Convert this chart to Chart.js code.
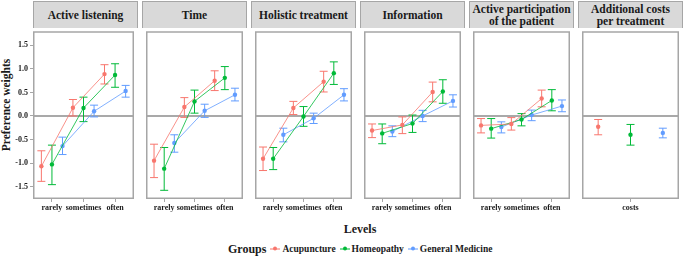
<!DOCTYPE html>
<html>
<head>
<meta charset="utf-8">
<script src="https://cdn.jsdelivr.net/npm/chart.js@4"></script>
<style>
  body { margin: 0; background: #fff; }
  #wrap { position: relative; width: 685px; height: 257px; overflow: hidden;
          font-family: "Liberation Serif", serif; font-weight: bold; color: #1a1a1a; }
  .strip { position: absolute; top: 1px; height: 27px; box-sizing: border-box;
           background: #d9d9d9; border: 1.5px solid #a6a6a6; border-bottom: none;
           display: flex; align-items: center; justify-content: center; text-align: center;
           font-size: 11.5px; line-height: 12.5px; white-space: pre-line; }
  canvas { position: absolute; top: 28px; }
  #ytitle { position: absolute; left: 5.5px; top: 105px; font-size: 11.5px; white-space: nowrap;
            transform: translate(-50%, -50%) rotate(-90deg); }
  #xtitle { position: absolute; left: 360px; top: 229px; font-size: 12px;
            transform: translate(-50%, -50%); }
  #legend { position: absolute; left: 228px; top: 248.5px; transform: translateY(-50%);
            display: flex; align-items: center; white-space: nowrap; }
  #legend .ttl { font-size: 12px; margin-right: 4px; }
  #legend .item { font-size: 9.5px; margin-right: 4px; }
  .key { display: inline-block; position: relative; width: 10px; height: 8px; margin-right: 2px; vertical-align: middle; }
  .key i { position: absolute; left: 0; right: 0; top: 3.5px; height: 1px; }
  .key b { position: absolute; left: 3px; top: 2px; width: 4px; height: 4px; border-radius: 2px; }
</style>
</head>
<body>
<div id="wrap">
  <div id="ytitle">Preference weights</div>
  <div id="xtitle">Levels</div>
  <div id="legend"></div>
</div>
<script>
// facets, levels and groups
const attributes = ['Active listening', 'Time', 'Holistic treatment', 'Information',
  'Active participation\nof the patient', 'Additional costs\nper treatment'];
const levels = ['rarely', 'sometimes', 'often'];
const costLevels = ['costs'];
const groups = ['Acupuncture', 'Homeopathy', 'General Medicine'];
const yTicks = [-1.5, -1, -0.5, 0, 0.5, 1, 1.5];

// preference weights per attribute (rarely, sometimes, often; costs = one value)
const acuMean = [[-1.07, 0.175, 0.89], [-0.95, 0.19, 0.75], [-0.91, 0.17, 0.73], [-0.31, -0.19, 0.51], [-0.20, -0.17, 0.37], [-0.23]];
const acuLow  = [[-1.39, 0.0, 0.68], [-1.31, -0.03, 0.54], [-1.16, 0.03, 0.51], [-0.46, -0.375, 0.30], [-0.36, -0.30, 0.195], [-0.40]];
const acuHigh = [[-0.74, 0.35, 1.09], [-0.60, 0.39, 0.96], [-0.66, 0.31, 0.95], [-0.17, -0.02, 0.72], [-0.055, -0.035, 0.55], [-0.075]];

const homMean = [[-1.03, 0.17, 0.87], [-1.12, 0.31, 0.81], [-0.91, -0.01, 0.91], [-0.37, -0.16, 0.52], [-0.27, -0.075, 0.33], [-0.40]];
const homLow  = [[-1.46, -0.12, 0.61], [-1.58, 0.06, 0.56], [-1.14, -0.22, 0.67], [-0.59, -0.35, 0.27], [-0.47, -0.21, 0.11], [-0.62]];
const homHigh = [[-0.62, 0.40, 1.11], [-0.67, 0.55, 1.05], [-0.67, 0.20, 1.15], [-0.17, 0.02, 0.77], [-0.055, 0.05, 0.56], [-0.18]];

const gmMean = [[-0.64, 0.10, 0.53], [-0.575, 0.11, 0.45], [-0.40, -0.05, 0.45], [-0.33, 0.0, 0.32], [-0.235, 0.02, 0.21], [-0.36]];
const gmLow  = [[-0.82, -0.02, 0.40], [-0.77, -0.03, 0.32], [-0.55, -0.16, 0.32], [-0.44, -0.12, 0.19], [-0.36, -0.10, 0.09], [-0.465]];
const gmHigh = [[-0.45, 0.23, 0.65], [-0.40, 0.25, 0.59], [-0.26, 0.06, 0.58], [-0.21, 0.12, 0.45], [-0.125, 0.125, 0.34], [-0.26]];

const means = [acuMean, homMean, gmMean];
const lows = [acuLow, homLow, gmLow];
const highs = [acuHigh, homHigh, gmHigh];
const colors = ['#F8766D', '#00BA38', '#619CFF'];

// layout
const panelLeft = [33, 142, 251, 360, 469, 578];
const panelW = 105;
const plotH = 171;
const xAxisH = 19;
const borderCol = '#a6a6a6';
const tickFont = { family: 'Liberation Serif', weight: 'bold', size: 8 };

const wrap = document.getElementById('wrap');

// error bars, zero line and panel frame
const facetExtras = {
  id: 'facetExtras',
  beforeDatasetsDraw(chart) {
    const { ctx, chartArea, scales: { x, y } } = chart;
    ctx.save();
    ctx.strokeStyle = '#8c8c8c';
    ctx.lineWidth = 1.5;
    const y0 = y.getPixelForValue(0);
    ctx.beginPath();
    ctx.moveTo(chartArea.left, y0);
    ctx.lineTo(chartArea.right, y0);
    ctx.stroke();
    chart.data.datasets.forEach(ds => {
      ctx.strokeStyle = ds.borderColor;
      ctx.lineWidth = 1;
      ds.data.forEach((pt, i) => {
        const px = x.getPixelForValue(pt.x);
        const lo = y.getPixelForValue(ds.low[i]);
        const hi = y.getPixelForValue(ds.high[i]);
        ctx.beginPath();
        ctx.moveTo(px, lo); ctx.lineTo(px, hi);
        ctx.moveTo(px - 4, lo); ctx.lineTo(px + 4, lo);
        ctx.moveTo(px - 4, hi); ctx.lineTo(px + 4, hi);
        ctx.stroke();
      });
    });
    ctx.restore();
  },
  afterDraw(chart) {
    const { ctx, chartArea } = chart;
    ctx.save();
    ctx.strokeStyle = borderCol;
    ctx.lineWidth = 1.5;
    ctx.strokeRect(chartArea.left + 0.75, chartArea.top, chartArea.width - 1.5, chartArea.height - 0.75);
    ctx.restore();
  }
};

attributes.forEach((name, p) => {
  const strip = document.createElement('div');
  strip.className = 'strip';
  strip.style.left = panelLeft[p] + 'px';
  strip.style.width = panelW + 'px';
  strip.textContent = name;
  wrap.appendChild(strip);

  const cats = p === 5 ? costLevels : levels;
  const dodge = p === 5 ? 0.4 : 0.335;
  const first = p === 0;
  const canvas = document.createElement('canvas');
  const cw = first ? panelLeft[0] + panelW : panelW;
  canvas.width = cw;
  canvas.height = plotH + xAxisH;
  canvas.style.left = (first ? 0 : panelLeft[p]) + 'px';
  canvas.style.width = cw + 'px';
  canvas.style.height = (plotH + xAxisH) + 'px';
  wrap.appendChild(canvas);

  const datasets = groups.map((g, k) => ({
    label: g,
    data: means[k][p].map((v, i) => ({ x: i + 1 + (k - 1) * dodge, y: v })),
    low: lows[k][p],
    high: highs[k][p],
    borderColor: colors[k],
    backgroundColor: colors[k],
    borderWidth: 0.8,
    pointRadius: 2.2,
    pointBorderWidth: 0,
    showLine: p !== 5,
    tension: 0
  }));

  new Chart(canvas, {
    type: 'line',
    data: { datasets },
    plugins: [facetExtras],
    options: {
      responsive: false,
      animation: false,
      devicePixelRatio: 1,
      layout: { padding: 0 },
      plugins: { legend: { display: false }, tooltip: { enabled: false } },
      scales: {
        x: {
          type: 'linear',
          min: 0.4,
          max: cats.length + 0.6,
          afterBuildTicks: s => { s.ticks = cats.map((c, i) => ({ value: i + 1 })); },
          ticks: {
            callback: v => cats[Math.round(v) - 1],
            font: tickFont, color: '#1a1a1a', padding: 1, maxRotation: 0, autoSkip: false
          },
          grid: { drawOnChartArea: false, drawTicks: true, tickLength: 3, color: borderCol },
          border: { display: false },
          afterFit: s => { s.height = xAxisH; s.paddingLeft = 0; s.paddingRight = 0; }
        },
        y: {
          display: first,
          min: -1.765,
          max: 1.785,
          afterBuildTicks: s => { s.ticks = yTicks.map(v => ({ value: v })); },
          ticks: { callback: v => v.toFixed(1), font: tickFont, color: '#1a1a1a', padding: 2 },
          grid: { drawOnChartArea: false, drawTicks: true, tickLength: 3, color: borderCol },
          border: { display: false },
          afterFit: s => { s.width = first ? panelLeft[0] : 0; s.paddingTop = 0; s.paddingBottom = 0; }
        }
      }
    }
  });
});

// legend
const legend = document.getElementById('legend');
legend.innerHTML = '<span class="ttl">Groups</span>' + groups.map((g, k) =>
  '<span class="key"><i style="background:' + colors[k] + '"></i><b style="background:' + colors[k] + '"></b></span>' +
  '<span class="item">' + g + '</span>').join('');
</script>
</body>
</html>
